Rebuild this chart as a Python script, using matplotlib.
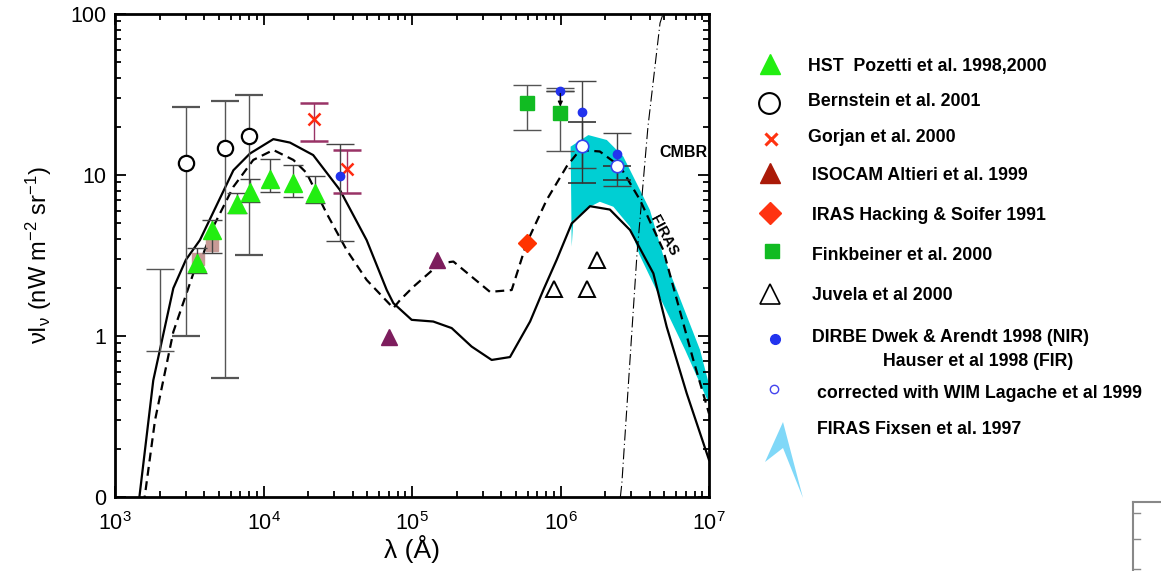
import matplotlib
matplotlib.use("Agg")
import matplotlib.pyplot as plt
from matplotlib.patches import Polygon
from matplotlib.lines import Line2D
import numpy as np

plt.rcParams['font.family'] = ['Liberation Sans', 'DejaVu Sans']
plt.rcParams['mathtext.fontset'] = 'custom'
plt.rcParams['mathtext.rm'] = 'Liberation Sans'
plt.rcParams['mathtext.it'] = 'Liberation Sans'

# ---- model curves ----
solid_lam = [1440, 1810, 2470, 3000, 3730, 6270, 8110, 11650, 15070, 21600, 32700,
             49500, 67600, 74900, 99500, 139000, 185000, 252000, 344000, 457000,
             624000, 766000, 942000, 1.19e6, 1.58e6, 2.15e6, 2.94e6, 4.22e6,
             5.19e6, 7.08e6, 1e7]
solid_val = [0.09, 0.53, 1.98, 2.97, 3.94, 10.7, 13.6, 16.7, 15.9, 13.3, 8.07,
             3.94, 1.93, 1.6, 1.26, 1.23, 1.12, 0.86, 0.71, 0.74,
             1.23, 1.93, 2.97, 5.0, 6.4, 6.1, 4.55, 2.45,
             1.14, 0.44, 0.17]

dashed_lam = [1560, 1860, 2470, 3370, 3730, 4590, 6270, 8530, 11650, 15900, 19500,
              26600, 36300, 49500, 74900, 83000, 102000, 155000, 190000, 335000,
              469000, 591000, 807000, 1.1e6, 1.35e6, 1.84e6, 2.52e6, 3.43e6,
              4.92e6, 5.75e6, 7.84e6, 1e7]
dashed_val = [0.09, 0.30, 1.06, 2.45, 2.83, 4.77, 8.45, 12.4, 14.3, 12.4, 10.3,
              5.78, 3.42, 2.23, 1.49, 1.67, 2.02, 2.83, 2.9, 1.88,
              1.93, 3.77, 7.0, 11.3, 14.3, 14.0, 11.3, 7.0,
              3.42, 2.02, 0.71, 0.33]

cmbr_lam = [2.53e6, 2.59e6, 3.27e6, 3.88e6, 4.68e6, 4.9e6]
cmbr_val = [0.1, 0.122, 3.18, 19.9, 87.9, 100]

# FIRAS band outline (upper edge then lower edge back)
firas_lam = [1.17e6, 1.54e6, 2.05e6, 2.65e6, 3.26e6, 4.0e6, 4.9e6, 8.7e6, 1e7,
             1e7, 6.9e6, 3.4e6, 2.94e6, 2.27e6, 1.84e6, 1.5e6, 1.22e6, 1.19e6]
firas_val = [15.0, 17.7, 16.5, 13.0, 8.87, 6.06, 3.2, 0.82, 0.50,
             0.38, 0.82, 3.2, 4.77, 6.35, 6.82, 6.2, 5.25, 3.59]

# ---- data points ----
hst_lam = [3580, 4500, 6600, 8110, 11070, 15900, 22200]
hst_val = [2.83, 4.55, 6.6, 7.87, 9.44, 8.87, 7.76]
hst_hi = [3.5, 5.25, 7.76, 9.4, 12.6, 11.5, 9.86]
hst_lo = [2.47, 3.3, 5.78, 6.8, 7.8, 7.26, 6.67]

sq_lam = [3600, 4500]
sq_val = [3.0, 3.7]

bern_lam = [3000, 5480, 8020]
bern_val = [11.8, 14.7, 17.5]
bern_hi = [26.3, 29.0, 31.4]
bern_lo = [1.0, 0.55, 3.17]

extra_lam = [2000]
extra_val = [1.45]
extra_hi = [2.6]
extra_lo = [0.81]

gorjan_lam = [22000, 36600]
gorjan_val = [22.2, 10.9]
gorjan_hi = [28.1, 14.2]
gorjan_lo = [16.2, 7.7]

isocam_lam = [69600, 148000]
isocam_val = [0.98, 2.97]

iras_lam = [597000]
iras_val = [3.77]

fink_lam = [597000, 997000]
fink_val = [27.9, 24.4]
fink_hi = [36.2, 34.5]
fink_lo = [19.0, 14.0]

juvela_lam = [9.1e5, 1.5e6, 1.75e6]
juvela_val = [1.95, 1.95, 2.97]

dirbe_lam = [32700, 997000, 1.39e6, 2.39e6]
dirbe_val = [9.8, 33.4, 24.6, 13.5]
dirbe_hi = [15.6, 33.4, 38.4, 18.3]
dirbe_lo = [3.9, 33.4, 11.0, 8.55]

wim_lam = [1.39e6, 2.39e6]
wim_val = [15.1, 11.3]
wim_hi = [21.3, 11.3]
wim_lo = [8.87, 9.3]

W, H = 1161, 571
fig = plt.figure(figsize=(W / 100, H / 100), dpi=100)
ax = fig.add_axes([115 / W, 1 - 497 / H, 594 / W, 483 / H])
ax.set_xscale('log')
ax.set_yscale('log')

def err(v, lo, hi):
    v = np.array(v); return [v - np.array(lo), np.array(hi) - v]

ax.fill(firas_lam, firas_val, color='#00cfd3', lw=0, zorder=1)
ax.plot(solid_lam, solid_val, color='black', lw=1.6, zorder=3)
ax.plot(dashed_lam, dashed_val, color='black', lw=1.6, ls=(0, (4, 2.5)), zorder=3)
ax.plot(cmbr_lam, cmbr_val, color='black', lw=0.8, ls=(0, (10, 3, 1, 3)), zorder=3)

ekw = dict(ls='none', elinewidth=1, capthick=1, zorder=4)
ax.errorbar(extra_lam, extra_val, yerr=err(extra_val, extra_lo, extra_hi),
            marker='none', ecolor='#555555', capsize=10, **ekw)
ax.errorbar(bern_lam, bern_val, yerr=err(bern_val, bern_lo, bern_hi), marker='o', ms=11,
            mfc='white', mec='black', mew=1.6, ecolor='#555555', capsize=10, **ekw)
ax.plot(sq_lam, sq_val, 's', ms=9, color='#c79a96', zorder=4)
ax.errorbar(hst_lam, hst_val, yerr=err(hst_val, hst_lo, hst_hi), marker='^', ms=13,
            color='#22ee11', mec='#22ee11', ecolor='#444444', capsize=7, **ekw)
ax.errorbar(gorjan_lam, gorjan_val, yerr=err(gorjan_val, gorjan_lo, gorjan_hi), marker='x',
            ms=8, mew=1.8, color='#ff2a10', ecolor='#993366', capsize=10, **ekw)
ax.errorbar(fink_lam, fink_val, yerr=err(fink_val, fink_lo, fink_hi), marker='s', ms=10,
            color='#11bb22', ecolor='#555555', capsize=10, **ekw)
ax.errorbar(dirbe_lam, dirbe_val, yerr=err(dirbe_val, dirbe_lo, dirbe_hi), marker='o', ms=6,
            color='#2233ee', ecolor='#444444', capsize=10, **ekw)
ax.annotate('', xy=(fink_lam[1], fink_val[1] * 1.05), xytext=(dirbe_lam[1], dirbe_val[1]),
            arrowprops=dict(arrowstyle='-|>', color='black', lw=0.9, mutation_scale=7), zorder=5)
ax.errorbar(wim_lam, wim_val, yerr=err(wim_val, wim_lo, wim_hi), marker='o', ms=9,
            mfc='white', mec='#3344ee', mew=1.2, ecolor='#333333', capsize=10, **ekw)
ax.plot(isocam_lam, isocam_val, '^', ms=11, color='#7d1d5d', zorder=4)
ax.plot(iras_lam, iras_val, 'D', ms=9, color='#ff3300', zorder=4)
ax.plot(juvela_lam, juvela_val, '^', ms=11, mfc='white', mec='black', mew=1.4, zorder=4)

ax.text(6.75e6, 13.7, 'CMBR', fontsize=11.5, fontweight='bold', ha='center', va='center')
ax.text(5.0e6, 4.2, 'FIRAS', fontsize=10.5, fontweight='bold', ha='center', va='center',
        rotation=-62)

ax.set_xlim(1e3, 1e7)
ax.set_ylim(0.1, 100)
ax.set_yticks([0.1, 1, 10, 100])
ax.set_yticklabels(['0', '1', '10', '100'])
ax.tick_params(which='both', direction='in', top=True, right=True, labelsize=15.5, width=1.3)
ax.tick_params(which='major', length=8)
ax.tick_params(axis='y', which='major', pad=6)
ax.tick_params(axis='x', which='major', pad=11)
ax.tick_params(which='minor', length=4)
for s in ax.spines.values():
    s.set_linewidth(2)
ax.set_xlabel('λ (Å)', fontsize=19, labelpad=0)
ax.set_ylabel(r'νI$_\mathrm{ν}$ (nW m$^\mathrm{-2}$ sr$^\mathrm{-1}$)', fontsize=17, labelpad=12)

# ---- legend drawn in pixel space ----
lg = fig.add_axes([0, 0, 1, 1], facecolor='none')
lg.set_xlim(0, W); lg.set_ylim(H, 0); lg.axis('off')
tk = dict(fontsize=12.8, fontweight='bold', va='center', ha='left')
lg.plot(770, 64, '^', ms=14, color='#22ee11')
lg.text(808, 66, 'HST  Pozetti et al. 1998,2000', **tk)
lg.plot(769, 103, 'o', ms=15, mfc='white', mec='black', mew=1.5)
lg.text(808, 102, 'Bernstein et al. 2001', **tk)
lg.plot(771, 139, 'x', ms=8, mew=2.2, color='#ff3311')
lg.text(808, 138, 'Gorjan et al. 2000', **tk)
lg.plot(770, 173, '^', ms=14, color='#aa1a08')
lg.text(812, 175, 'ISOCAM Altieri et al. 1999', **tk)
lg.plot(770, 213, 'D', ms=11, color='#ff3311')
lg.text(812, 216, 'IRAS Hacking & Soifer 1991', **tk)
lg.plot(772, 251, 's', ms=10, color='#11bb22')
lg.text(812, 256, 'Finkbeiner et al. 2000', **tk)
lg.plot(770, 294, '^', ms=14, mfc='white', mec='black', mew=1.2)
lg.text(812, 296, 'Juvela et al 2000', **tk)
lg.plot(775, 339, 'o', ms=7, color='#2233ee')
lg.text(812, 338, 'DIRBE Dwek & Arendt 1998 (NIR)', **tk)
lg.text(883, 361, 'Hauser et al 1998 (FIR)', **tk)
lg.plot(774, 389, 'o', ms=6, mfc='white', mec='#4444ee', mew=1)
lg.text(817, 393, 'corrected with WIM Lagache et al 1999', **tk)
lg.add_patch(Polygon([(765, 462), (783, 422), (803, 498), (783, 448)], closed=True,
                     facecolor='#80d8f8', edgecolor='none'))
lg.text(817, 429, 'FIRAS Fixsen et al. 1997', **tk)

# stray axis fragment in the lower right corner
gk = dict(color='#888888', lw=1.5)
lg.add_line(Line2D([1133, 1133], [502, 571], **gk))
lg.add_line(Line2D([1133, 1161], [502, 502], **gk))
for yy in (513, 539, 569):
    lg.add_line(Line2D([1133, 1140], [yy, yy], color='#888888', lw=1))

fig.savefig('out.png', dpi=100)
